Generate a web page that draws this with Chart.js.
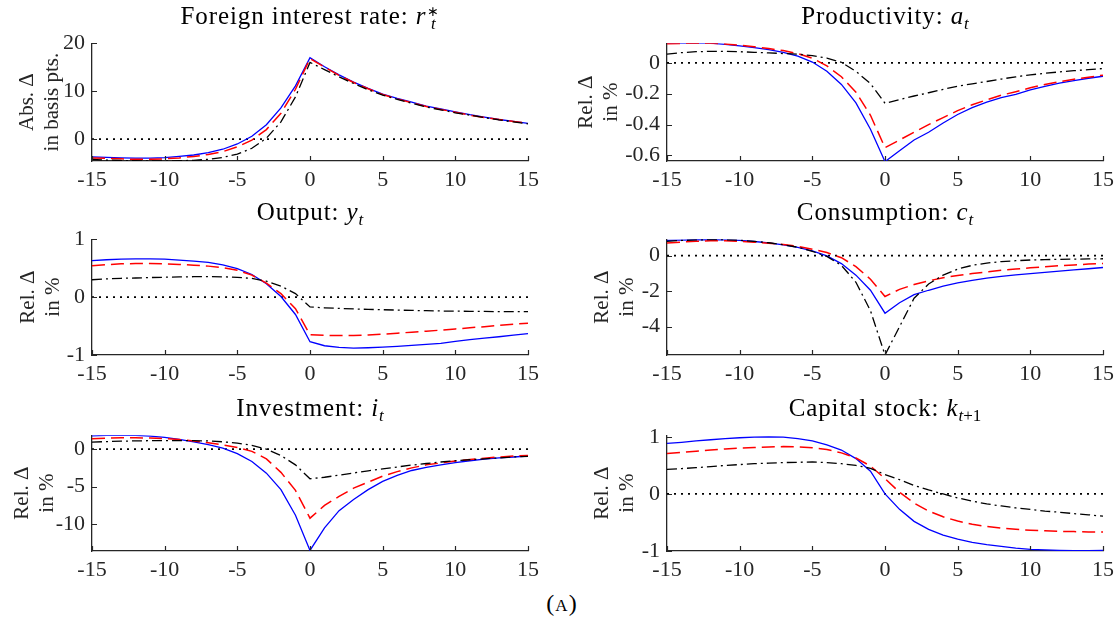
<!DOCTYPE html>
<html>
<head>
<meta charset="utf-8">
<script src="https://cdn.jsdelivr.net/npm/chart.js@4/dist/chart.umd.min.js"></script>
<style>
body { margin: 0; background: #fff; width: 1120px; height: 626px; position: relative; overflow: hidden; font-family: "Liberation Serif", serif; }
.panel { position: absolute; }
.ttl { position: absolute; width: 440px; text-align: center; font-size: 25px; line-height: 1; color: #000; white-space: nowrap; letter-spacing: 0.9px; }
.ttl sub { font-size: 0.68em; vertical-align: -0.28em; letter-spacing: 0; }
.ss { display: inline-block; vertical-align: -0.34em; font-size: 0.68em; line-height: 0.85; margin-left: 1px; letter-spacing: 0; }
.ss span { display: block; }
.ss span:first-child { font-size: 0.8em; }
#caption { position: absolute; left: 532px; top: 591px; width: 60px; text-align: center; font-size: 24px; line-height: 1; font-variant: small-caps; letter-spacing: 1px; }
</style>
</head>
<body>
<div id="wrap"></div>
<div id="caption">(a)</div>
<script>
// horizon in quarters around the shock
const periods = [-15,-14,-13,-12,-11,-10,-9,-8,-7,-6,-5,-4,-3,-2,-1,0,1,2,3,4,5,6,7,8,9,10,11,12,13,14,15];
const xTickValues = [-15,-10,-5,0,5,10,15];

// foreign interest rate (basis points)
const rateBlue  = [-3.7,-3.8,-3.9,-3.95,-3.95,-3.85,-3.6,-3.3,-2.8,-2.1,-1.0,0.6,3.0,6.5,11.1,17.0,15.1,13.4,11.9,10.6,9.4,8.5,7.7,6.9,6.3,5.7,5.1,4.6,4.1,3.7,3.3];
const rateRed   = [-3.9,-4.0,-4.1,-4.2,-4.2,-4.1,-3.9,-3.6,-3.2,-2.6,-1.6,-0.2,2.0,5.4,10.4,16.8,15.0,13.3,11.8,10.5,9.3,8.4,7.6,6.8,6.2,5.6,5.0,4.5,4.1,3.7,3.3];
const rateBlack = [-4.2,-4.35,-4.45,-4.5,-4.55,-4.55,-4.5,-4.4,-4.2,-3.8,-3.1,-1.9,0.2,3.6,8.8,16.0,14.5,13.0,11.6,10.3,9.2,8.3,7.5,6.7,6.1,5.5,5.0,4.5,4.0,3.6,3.2];

// productivity
const prodBlue  = [0.127,0.128,0.128,0.127,0.12,0.11,0.098,0.085,0.068,0.043,0.005,-0.055,-0.14,-0.26,-0.43,-0.64,-0.57,-0.50,-0.45,-0.39,-0.335,-0.29,-0.255,-0.225,-0.205,-0.176,-0.152,-0.132,-0.115,-0.10,-0.087];
const prodRed   = [0.123,0.126,0.127,0.127,0.122,0.114,0.104,0.092,0.079,0.06,0.03,-0.02,-0.09,-0.19,-0.34,-0.55,-0.50,-0.45,-0.40,-0.355,-0.31,-0.272,-0.24,-0.21,-0.187,-0.162,-0.14,-0.122,-0.106,-0.093,-0.08];
const prodBlack = [0.056,0.066,0.072,0.074,0.074,0.072,0.068,0.064,0.06,0.056,0.046,0.031,0.003,-0.055,-0.135,-0.262,-0.238,-0.215,-0.194,-0.172,-0.152,-0.136,-0.121,-0.105,-0.091,-0.078,-0.068,-0.059,-0.051,-0.044,-0.037];

// output
const outBlue  = [0.63,0.645,0.655,0.66,0.66,0.655,0.64,0.62,0.60,0.555,0.49,0.39,0.23,0.01,-0.30,-0.77,-0.84,-0.87,-0.88,-0.875,-0.865,-0.85,-0.835,-0.815,-0.80,-0.765,-0.735,-0.71,-0.685,-0.655,-0.63];
const outRed   = [0.54,0.56,0.575,0.58,0.58,0.575,0.565,0.55,0.535,0.51,0.465,0.38,0.24,0.06,-0.2,-0.65,-0.66,-0.665,-0.665,-0.655,-0.64,-0.625,-0.605,-0.59,-0.57,-0.55,-0.53,-0.51,-0.49,-0.47,-0.45];
const outBlack = [0.30,0.315,0.325,0.33,0.338,0.343,0.348,0.352,0.353,0.35,0.342,0.322,0.275,0.19,0.06,-0.17,-0.185,-0.195,-0.205,-0.212,-0.218,-0.224,-0.23,-0.235,-0.24,-0.243,-0.246,-0.248,-0.25,-0.25,-0.25];

// consumption
const consBlue  = [0.85,0.87,0.89,0.9,0.88,0.85,0.79,0.71,0.6,0.46,0.26,-0.02,-0.45,-1.1,-1.95,-3.24,-2.65,-2.2,-1.95,-1.72,-1.54,-1.4,-1.27,-1.17,-1.08,-1.01,-0.94,-0.87,-0.8,-0.74,-0.67];
const consRed   = [0.71,0.76,0.8,0.83,0.83,0.8,0.75,0.69,0.62,0.52,0.36,0.17,-0.12,-0.62,-1.33,-2.3,-1.9,-1.63,-1.42,-1.25,-1.12,-1.01,-0.92,-0.83,-0.76,-0.69,-0.63,-0.57,-0.53,-0.48,-0.44];
const consBlack = [0.8,0.85,0.88,0.9,0.89,0.86,0.8,0.72,0.61,0.47,0.24,-0.05,-0.55,-1.5,-3.1,-5.59,-4.0,-2.4,-1.6,-1.1,-0.76,-0.55,-0.42,-0.34,-0.29,-0.25,-0.23,-0.21,-0.2,-0.19,-0.18];

// investment
const invBlue  = [1.76,1.82,1.85,1.82,1.72,1.55,1.28,0.96,0.6,0.12,-0.6,-1.65,-3.2,-5.4,-8.8,-13.5,-10.5,-8.2,-6.7,-5.4,-4.3,-3.5,-2.85,-2.43,-2.1,-1.8,-1.55,-1.34,-1.17,-1.05,-0.92];
const invRed   = [1.38,1.45,1.5,1.5,1.47,1.4,1.27,1.09,0.84,0.55,0.22,-0.3,-1.3,-3.1,-5.5,-9.2,-7.5,-6.3,-5.2,-4.4,-3.6,-3.0,-2.5,-2.1,-1.85,-1.6,-1.38,-1.21,-1.05,-0.92,-0.84];
const invBlack = [0.92,1.0,1.06,1.09,1.12,1.13,1.14,1.13,1.08,0.97,0.8,0.5,0.0,-0.85,-2.1,-3.95,-3.75,-3.47,-3.18,-2.89,-2.63,-2.38,-2.13,-1.92,-1.72,-1.55,-1.42,-1.3,-1.17,-1.05,-0.96];

// capital stock
const capBlue  = [0.885,0.905,0.93,0.95,0.97,0.985,0.995,1.0,0.995,0.97,0.93,0.86,0.77,0.62,0.40,0.0,-0.27,-0.48,-0.62,-0.72,-0.79,-0.85,-0.89,-0.92,-0.95,-0.97,-0.98,-0.99,-0.995,-0.995,-0.99];
const capRed   = [0.71,0.73,0.75,0.77,0.79,0.805,0.815,0.825,0.83,0.825,0.81,0.78,0.72,0.63,0.49,0.27,0.03,-0.16,-0.3,-0.4,-0.475,-0.53,-0.57,-0.6,-0.62,-0.635,-0.645,-0.655,-0.66,-0.665,-0.665];
const capBlack = [0.43,0.445,0.46,0.48,0.5,0.515,0.53,0.54,0.55,0.555,0.56,0.55,0.53,0.5,0.45,0.34,0.25,0.15,0.07,0.0,-0.07,-0.125,-0.175,-0.21,-0.245,-0.27,-0.3,-0.32,-0.345,-0.365,-0.39];

const titles = [
  'Foreign interest rate: <i>r</i><span class="ss"><span>&lowast;</span><span><i>t</i></span></span>',
  'Productivity: <i>a</i><sub><i>t</i></sub>',
  'Output: <i>y</i><sub><i>t</i></sub>',
  'Consumption: <i>c</i><sub><i>t</i></sub>',
  'Investment: <i>i</i><sub><i>t</i></sub>',
  'Capital stock: <i>k</i><sub><i>t</i>+1</sub>'
];
const yLabels = [
  ['Abs. Δ', 'in basis pts.'],
  ['Rel. Δ', 'in %'], ['Rel. Δ', 'in %'], ['Rel. Δ', 'in %'], ['Rel. Δ', 'in %'], ['Rel. Δ', 'in %']
];
const yLimits = [[-4.55, 20], [-0.636, 0.127], [-1, 1], [-5.59, 0.92], [-13.57, 1.85], [-1, 1.03]];
const yTickValues = [[0, 10, 20], [-0.6, -0.4, -0.2, 0], [-1, 0, 1], [-4, -2, 0], [-10, -5, 0], [-1, 0, 1]];
const seriesSets = [
  [rateBlue, rateRed, rateBlack],
  [prodBlue, prodRed, prodBlack],
  [outBlue, outRed, outBlack],
  [consBlue, consRed, consBlack],
  [invBlue, invRed, invBlack],
  [capBlue, capRed, capBlack]
];

// layout of the 3x2 grid
const colLeft = [0, 560];
const plotLeft = [92, 667];
const plotWidth = 436;
const rowTop = [37, 233, 429];
const rowBottom = [161, 355, 551];
const titleBaseline = [23, 219, 415];
const yTitlePad = [15, 14, 16, 30, 10, 30];
const FONT = '"Liberation Serif", "Times New Roman", serif';
const AXIS = '#262626';

const inwardTicks = {
  id: 'inwardTicks',
  afterDraw(chart) {
    const {ctx, chartArea: a, scales: {x, y}} = chart;
    ctx.save();
    ctx.strokeStyle = AXIS;
    ctx.lineWidth = 1.2;
    ctx.beginPath();
    x.ticks.forEach(t => {
      const px = Math.round(x.getPixelForValue(t.value)) + 0.5;
      ctx.moveTo(px, a.bottom);
      ctx.lineTo(px, a.bottom - 5);
    });
    y.ticks.forEach(t => {
      const py = Math.round(y.getPixelForValue(t.value)) + 0.5;
      ctx.moveTo(a.left, py);
      ctx.lineTo(a.left + 5, py);
    });
    ctx.stroke();
    ctx.restore();
  }
};

function line(values, color, dash, width, order) {
  return {
    data: values.map((v, i) => ({x: periods[i], y: v})),
    borderColor: color,
    borderDash: dash,
    borderWidth: width,
    pointRadius: 0,
    fill: false,
    tension: 0,
    order: order
  };
}

const wrap = document.getElementById('wrap');

seriesSets.forEach((series, p) => {
  const col = p % 2, row = Math.floor(p / 2);
  const left = colLeft[col];
  const top = rowTop[row] - 14;
  const w = 560;
  const h = rowBottom[row] - rowTop[row] + 14 + 36;
  const rightPad = left + w - (plotLeft[col] + plotWidth);

  const t = document.createElement('div');
  t.className = 'ttl';
  t.style.left = (plotLeft[col] + plotWidth / 2 - 220) + 'px';
  t.style.top = (titleBaseline[row] - 20.5) + 'px';
  t.innerHTML = titles[p];
  document.body.appendChild(t);

  const div = document.createElement('div');
  div.className = 'panel';
  div.style.left = left + 'px';
  div.style.top = top + 'px';
  const cv = document.createElement('canvas');
  cv.width = w; cv.height = h;
  cv.style.width = w + 'px'; cv.style.height = h + 'px';
  div.appendChild(cv);
  wrap.appendChild(div);

  const zeroLine = periods.map(() => 0);

  new Chart(cv.getContext('2d'), {
    type: 'line',
    data: {
      datasets: [
        line(series[0], '#0000ff', [], 1.3, 2),
        line(series[1], '#ff0000', [13, 6], 1.5, 1),
        line(series[2], '#000000', [10, 4, 2, 4], 1.3, 0),
        line(zeroLine, '#000000', [2, 5], 1.8, 3)
      ]
    },
    options: {
      responsive: false,
      animation: false,
      devicePixelRatio: 1,
      layout: {padding: {left: 0, top: 14, right: rightPad, bottom: 0}},
      plugins: {legend: {display: false}, tooltip: {enabled: false}},
      scales: {
        x: {
          type: 'linear',
          min: -15, max: 15,
          afterBuildTicks: s => { s.ticks = xTickValues.map(v => ({value: v})); },
          afterFit: s => { s.height = 36; },
          grid: {display: false, drawTicks: false},
          border: {color: AXIS, width: 1.3},
          ticks: {font: {family: FONT, size: 22}, color: AXIS, padding: 6, maxRotation: 0, autoSkip: false, callback: v => String(v)},
        },
        y: {
          type: 'linear',
          min: yLimits[p][0], max: yLimits[p][1],
          afterBuildTicks: s => { s.ticks = yTickValues[p].map(v => ({value: v})); },
          afterFit: s => { s.width = plotLeft[col] - left; },
          grid: {display: false, drawTicks: false},
          border: {color: AXIS, width: 1.3},
          ticks: {font: {family: FONT, size: 22}, color: AXIS, padding: 7, autoSkip: false, callback: v => String(v)},
          title: {display: true, text: yLabels[p], color: AXIS, font: {family: FONT, size: 21, lineHeight: 1.2}, padding: {top: yTitlePad[p], bottom: 0}}
        }
      }
    },
    plugins: [inwardTicks]
  });
});
</script>
</body>
</html>
